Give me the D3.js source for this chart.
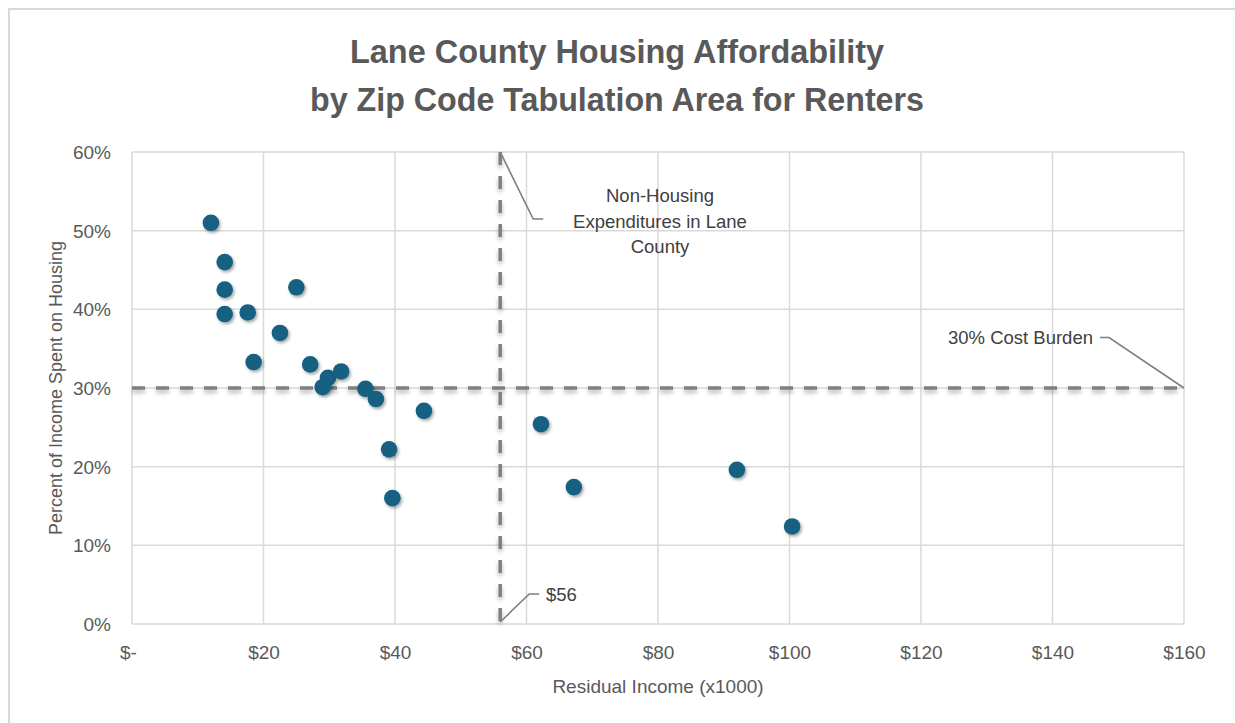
<!DOCTYPE html>
<html>
<head>
<meta charset="utf-8">
<script src="https://cdn.jsdelivr.net/npm/d3@7"></script>
<style>
  html, body { margin: 0; padding: 0; background: #ffffff; }
  svg { display: block; }
  text { fill: #595959; }
</style>
</head>
<body>
<svg id="chart" width="1235" height="723"></svg>
<script>
// Residual income (thousands of dollars) per Zip Code Tabulation Area
const residualIncome = [12.0, 14.1, 14.1, 14.1, 17.6, 25.0, 22.5, 18.5, 27.1, 29.8, 29.0,
                        31.8, 35.5, 37.1, 44.4, 39.1, 39.6, 62.2, 67.2, 92.0, 100.4];
// Share of income spent on housing (percent), same order as above
const housingShare = [51.0, 46.0, 42.5, 39.4, 39.6, 42.8, 37.0, 33.3, 33.0, 31.3, 30.1,
                      32.1, 29.9, 28.6, 27.1, 22.2, 16.0, 25.4, 17.4, 19.6, 12.4];

const xTicks = [0, 20, 40, 60, 80, 100, 120, 140, 160];
const yTicks = [0, 10, 20, 30, 40, 50, 60];

// Reference values
const nonHousingExpenditure = 56;   // $ thousands
const costBurden = 30;              // percent

const titleLines = ["Lane County Housing Affordability",
                    "by Zip Code Tabulation Area for Renters"];
const xTitle = "Residual Income (x1000)";
const yTitle = "Percent of Income Spent on Housing";
const expenditureNote = ["Non-Housing", "Expenditures in Lane", "County"];
const burdenNote = "30% Cost Burden";
const expenditureValueNote = "$56";

const svg = d3.select("#chart");
const bodyFont = "'Liberation Sans', Arial, sans-serif";
const titleFont = "'Liberation Sans Narrow', 'Arial Narrow', 'Liberation Sans', sans-serif";

const x = d3.scaleLinear().domain([0, 160]).range([132, 1184]);
const y = d3.scaleLinear().domain([0, 60]).range([624, 152]);

const defs = svg.append("defs");
const shadow = defs.append("filter").attr("id", "shadow")
  .attr("x", "-50%").attr("y", "-50%").attr("width", "200%").attr("height", "200%");
shadow.append("feDropShadow").attr("dx", 1.5).attr("dy", 2).attr("stdDeviation", 1.8)
  .attr("flood-color", "#000").attr("flood-opacity", 0.35);
const lineShadow = defs.append("filter").attr("id", "lineShadow")
  .attr("x", "-5%").attr("y", "-50%").attr("width", "110%").attr("height", "200%");
lineShadow.append("feDropShadow").attr("dx", 0).attr("dy", 3).attr("stdDeviation", 2)
  .attr("flood-color", "#000").attr("flood-opacity", 0.3);

// Chart frame
svg.append("rect").attr("x", 9).attr("y", 9).attr("width", 1240).attr("height", 730)
  .attr("fill", "#ffffff").attr("stroke", "#d9d9d9").attr("stroke-width", 2);

// Title (condensed to the width of a narrow face)
const titleWidths = [534, 614];
svg.append("g").selectAll("text").data(titleLines).join("text")
  .attr("x", 617).attr("y", (d, i) => 63 + i * 48)
  .attr("text-anchor", "middle")
  .attr("textLength", (d, i) => titleWidths[i]).attr("lengthAdjust", "spacingAndGlyphs")
  .style("font-family", titleFont).style("font-weight", "bold").style("font-size", "34px")
  .text(d => d);

// Gridlines
const grid = svg.append("g").attr("stroke", "#d9d9d9").attr("stroke-width", 1.5);
grid.selectAll("line.v").data(xTicks).join("line").attr("class", "v")
  .attr("x1", d => x(d)).attr("x2", d => x(d)).attr("y1", y(60)).attr("y2", y(0));
grid.selectAll("line.h").data(yTicks).join("line").attr("class", "h")
  .attr("x1", x(0)).attr("x2", x(160)).attr("y1", d => y(d)).attr("y2", d => y(d));

// Axes (labels only; lines come from the grid)
const xAxis = d3.axisBottom(x).tickValues(xTicks).tickSize(0).tickPadding(0)
  .tickFormat(d => d === 0 ? "$-" : "$" + d);
const gx = svg.append("g").attr("transform", `translate(0,${y(0)})`).call(xAxis);
gx.select(".domain").remove();
gx.selectAll("text").attr("y", 35).attr("dy", 0)
  .style("font-family", bodyFont).style("font-size", "19px").style("fill", "#595959");
gx.selectAll(".tick").filter(d => d === 0).select("text").attr("dx", -4);

const yAxis = d3.axisLeft(y).tickValues(yTicks).tickSize(0).tickPadding(21)
  .tickFormat(d => d + "%");
const gy = svg.append("g").attr("transform", `translate(${x(0)},0)`).call(yAxis);
gy.select(".domain").remove();
gy.selectAll("text").attr("dy", "0.35em")
  .style("font-family", bodyFont).style("font-size", "19px").style("fill", "#595959");

// Axis titles
svg.append("text").attr("x", 658).attr("y", 693).attr("text-anchor", "middle")
  .style("font-family", bodyFont).style("font-size", "19px").text(xTitle);
svg.append("text").attr("transform", "translate(62,388) rotate(-90)").attr("text-anchor", "middle")
  .style("font-family", bodyFont).style("font-size", "18px").text(yTitle);

// Reference lines
const ref = svg.append("g").attr("stroke", "#7f7f7f").attr("stroke-width", 3.5)
  .attr("stroke-dasharray", "13,11").attr("filter", "url(#lineShadow)");
ref.append("line").attr("x1", x(0)).attr("x2", x(160))
  .attr("y1", y(costBurden)).attr("y2", y(costBurden));
ref.append("line").attr("x1", x(nonHousingExpenditure)).attr("x2", x(nonHousingExpenditure))
  .attr("y1", y(60)).attr("y2", y(0));

// Points
svg.append("g").selectAll("circle").data(residualIncome.map((v, i) => [v, housingShare[i]]))
  .join("circle")
  .attr("cx", d => x(d[0])).attr("cy", d => y(d[1])).attr("r", 8.3)
  .attr("fill", "#156082").attr("filter", "url(#shadow)");

// Callouts
const leader = svg.append("g").attr("fill", "none").attr("stroke", "#7f7f7f").attr("stroke-width", 1.6);
const ex = x(nonHousingExpenditure);
leader.append("polyline").attr("points",
  `${ex},${y(60)} ${ex + 33},${y(60) + 67} ${ex + 43},${y(60) + 67}`);
leader.append("polyline").attr("points",
  `${ex},${y(0) - 2} ${ex + 29},${y(0) - 30} ${ex + 39},${y(0) - 30}`);
const bx = x(160), by = y(costBurden);
leader.append("polyline").attr("points",
  `${bx},${by} ${bx - 75},${by - 50.5} ${bx - 84},${by - 50.5}`);

svg.append("g").selectAll("text").data(expenditureNote).join("text")
  .attr("x", 660).attr("y", (d, i) => 202 + i * 25.5).attr("text-anchor", "middle")
  .style("font-family", bodyFont).style("font-size", "18.5px").style("fill", "#404040")
  .text(d => d);
svg.append("text").attr("x", 1093).attr("y", 344).attr("text-anchor", "end")
  .style("font-family", bodyFont).style("font-size", "18.5px").style("fill", "#404040")
  .text(burdenNote);
svg.append("text").attr("x", 546).attr("y", 601)
  .style("font-family", bodyFont).style("font-size", "18.5px").style("fill", "#404040")
  .text(expenditureValueNote);
</script>
</body>
</html>
